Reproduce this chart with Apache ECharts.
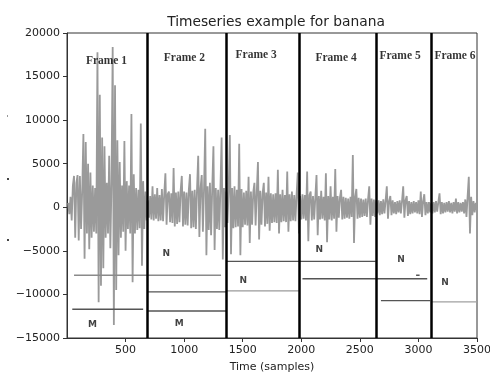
<!DOCTYPE html>
<html>
<head>
<meta charset="utf-8">
<script src="https://cdn.jsdelivr.net/npm/echarts@6/dist/echarts.min.js"></script>
<style>html,body{margin:0;padding:0;background:#fff}#c{width:490px;height:373px}</style>
</head>
<body>
<div id="c"></div>
<script>
// ---- data ----
var sampleStep = 10;   // samples between consecutive waveform points
var waveStart = 10;    // first sample
var frame1Wave = [500,-800,1200,-1500,2500,3600,-3500,2800,3700,-3800,3600,-2500,2000,8400,-5900,7500,-3000,5000,-4800,4000,-3500,2500,-2800,2200,-3000,17800,-10900,12900,-9000,8000,-7000,7000,-3500,2800,-3000,5900,-4700,3000,18400,-13500,14000,-9500,7700,-5500,5200,-3500,2500,-2800,7600,-5000,3000,-2500,2500,-3000,10700,-8600,3800,-3000,2200,-2600,2000,-2400,9600,-6700,3000,-2500,1800,-1500];
var frame2Wave = [800,-1200,1300,-1400,2400,-1500,1500,-1300,2200,-1600,1400,-1500,2100,-1600,1500,3900,-2000,1500,1800,-1700,1600,-1800,4500,-2200,1700,-1900,1800,-1700,1900,3600,-2200,1800,-2000,1700,-2100,2000,3800,-2400,1900,-2300,2000,-2500,2100,5900,-3400,2200,3700,-2800,2300,9000,-5500,2400,-2600,2800,-3200,2300,7000,-4900,2200,-2500,2000,-2600,2300,8000,-6000,2200,-2300,1800];
var frame3Wave = [-1800,2000,8300,-5400,2200,-2400,2400,-2300,2000,-2200,7300,-5500,2100,-2300,1700,-2000,1900,-2100,3500,-4100,1800,-2000,1700,2800,-2100,1800,5200,-3700,1900,-2000,1600,2800,-2200,1700,-1900,3500,-2700,1600,-1800,1500,-1700,1600,-1800,4300,-3000,1500,-1700,2000,-1600,1400,-1700,4100,-2800,1500,-1600,1800,-1500,1400,-1600,1500,4000,-3000];
var frame4Wave = [1300,-1400,1500,-1300,1400,-1500,4100,-3900,1400,1800,-1500,1300,-1400,1200,3700,-3200,1300,-1400,1900,-1300,1200,-1500,3900,-4000,1300,-1400,2400,-1500,1200,-1300,4400,-2800,1300,-1200,1100,2000,-1400,1200,-1300,1100,-1200,1000,-1300,1200,-1100,6000,-4100,1200,2100,-1300,1100,-1200,1000,-1100,900,-1000,1000,-1100,900,2400,-2000,1000,-1000,900,-1100,800];
var frame5Wave = [-700,800,-900,700,-800,900,-700,800,2400,-1300,700,1300,-900,800,-700,600,-800,700,-600,800,-700,700,2400,-1200,800,1300,-1000,700,-800,600,-700,700,-600,600,-700,800,-800,1800,-1100,700,1500,-900,600,-700,600,-600];
var frame6Wave = [500,-700,600,-600,700,-500,600,1600,-800,600,-700,500,-600,600,-500,700,-600,500,-700,600,-500,1000,-700,600,-600,500,-500,600,-700,900,-1100,1300,3500,-3000,1200,-900,700,-600,500,-400];

var frameBounds = [683, 1358, 1981, 2639, 3106];
var frameNames = ['Frame 1','Frame 2','Frame 3','Frame 4','Frame 5','Frame 6'];
var frameLabelX = [337, 1002, 1615, 2297, 2843, 3312];
var frameLabelY = [16800, 17100, 17500, 17150, 17400, 17400];

var markText = ['M','N','M','N','N','N','N'];
var markX = [218, 848, 959, 1505, 2153, 2852, 3227];
var markY = [-13500, -5300, -13400, -8400, -4900, -6050, -8700];

var levelStart = [60, 45, 690, 690, 1360, 1360, 2010, 2980, 2680, 3110];
var levelEnd   = [1315, 650, 1360, 1360, 2635, 1980, 3075, 3010, 3100, 3500];
var levelValue = [-7800, -11700, -9700, -11900, -6200, -9600, -8200, -7800, -10700, -10850];
var levelShade = ['#8a8a8a','#555555','#555555','#555555','#555555','#9a9a9a','#555555','#555555','#555555','#a0a0a0'];

var xTicks = {min: 0, max: 3500, interval: 500};
var yTicks = {min: -15000, max: 20000, interval: 5000};

// ---- build ----
var wave = [].concat(frame1Wave, frame2Wave, frame3Wave, frame4Wave, frame5Wave, frame6Wave);
var waveData = wave.map(function (v, i) { return [waveStart + i * sampleStep, v]; });

var series = [];
series.push({
  type: 'line', data: waveData, symbol: 'none', silent: true,
  lineStyle: {color: '#9a9a9a', width: 1.8},
  z: 2,
  markLine: {
    silent: true, symbol: ['none','none'], label: {show: false},
    lineStyle: {color: '#000', width: 2.5, type: 'solid'},
    data: frameBounds.map(function (b) { return {xAxis: b}; })
  }
});
for (var i = 0; i < levelValue.length; i++) {
  series.push({
    type: 'line', symbol: 'none', silent: true, z: 3,
    data: [[levelStart[i], levelValue[i]], [levelEnd[i], levelValue[i]]],
    lineStyle: {color: levelShade[i], width: 1.3}
  });
}
series.push({
  type: 'scatter', symbolSize: 1, silent: true, z: 5,
  itemStyle: {color: 'rgba(0,0,0,0)'},
  data: frameNames.map(function (n, i) { return {value: [frameLabelX[i], frameLabelY[i]], name: n}; }),
  label: {show: true, position: 'inside', formatter: '{b}', color: '#000',
          fontFamily: 'Liberation Serif', fontWeight: 'bold', fontSize: 11.5}
});
series.push({
  type: 'scatter', symbolSize: 1, silent: true, z: 5,
  itemStyle: {color: 'rgba(0,0,0,0)'},
  data: markText.map(function (n, i) { return {value: [markX[i], markY[i]], name: n}; }),
  label: {show: true, position: 'inside', formatter: '{b}', color: '#111',
          fontFamily: 'DejaVu Sans', fontWeight: 'bold', fontSize: 9}
});

function plain(v) { return String(v).replace('-', '\u2212'); }

var chart = echarts.init(document.getElementById('c'), null, {renderer: 'canvas'});
chart.setOption({
  animation: false,
  backgroundColor: '#fff',
  title: {
    text: 'Timeseries example for banana', left: 271, top: 10, textAlign: 'center',
    textStyle: {fontFamily: 'DejaVu Sans', fontSize: 13.8, fontWeight: 'normal', color: '#222'}
  },
  graphic: [
    {type: 'rect', shape: {x: 7, y: 115, width: 1, height: 2}, style: {fill: '#999'}},
    {type: 'rect', shape: {x: 7, y: 178, width: 2, height: 2}, style: {fill: '#444'}},
    {type: 'rect', shape: {x: 7, y: 239, width: 2, height: 2}, style: {fill: '#444'}}
  ],
  grid: {left: 67, right: 13, top: 33, bottom: 35, show: true, borderColor: '#333', borderWidth: 1,
         backgroundColor: 'transparent', containLabel: false, outerBoundsMode: 'none'},
  xAxis: {
    type: 'value', min: xTicks.min, max: xTicks.max, interval: xTicks.interval,
    name: 'Time (samples)', nameLocation: 'middle', nameGap: 24,
    nameTextStyle: {fontFamily: 'DejaVu Sans', fontSize: 11, color: '#222'},
    axisLine: {show: true, onZero: false, lineStyle: {color: '#333', width: 1}},
    axisTick: {show: true, length: 4, lineStyle: {color: '#333'}},
    axisLabel: {showMinLabel: false, fontFamily: 'DejaVu Sans', fontSize: 11, color: '#222', margin: 7,
                formatter: plain},
    splitLine: {show: false}
  },
  yAxis: {
    type: 'value', min: yTicks.min, max: yTicks.max, interval: yTicks.interval,
    axisLine: {show: true, onZero: false, lineStyle: {color: '#333', width: 1}},
    axisTick: {show: true, length: 4, lineStyle: {color: '#333'}},
    axisLabel: {fontFamily: 'DejaVu Sans', fontSize: 11, color: '#222', margin: 7, formatter: plain},
    splitLine: {show: false}
  },
  series: series
});
</script>
</body>
</html>
